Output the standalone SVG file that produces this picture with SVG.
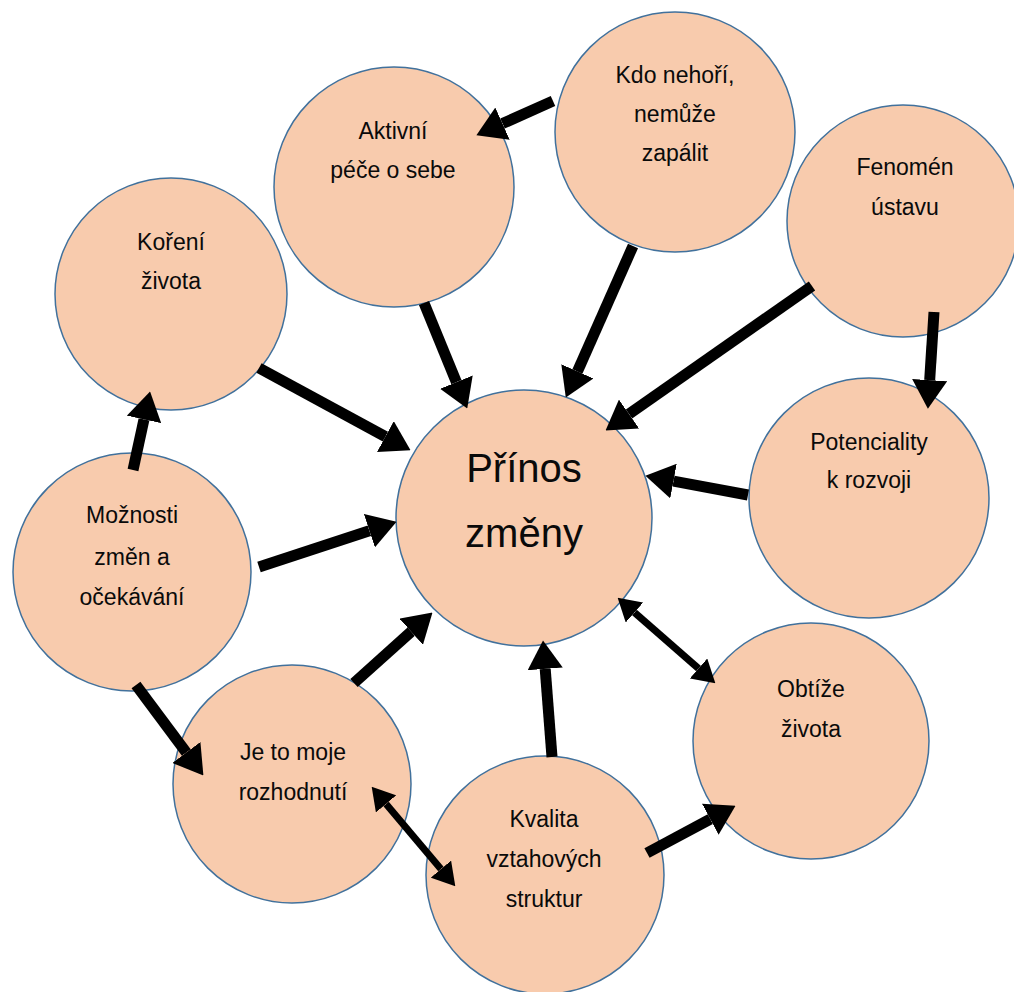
<svg xmlns="http://www.w3.org/2000/svg" width="1014" height="992" viewBox="0 0 1014 992">
<style>
.n{fill:#F8CBAD;stroke:#41719C;stroke-width:1.5}
.t{font-family:"Liberation Sans","DejaVu Sans",sans-serif;font-size:23px;fill:#0a0a0a;text-anchor:middle}
.big{font-size:40px}
.a{stroke:#000;stroke-width:11;fill:none;marker-end:url(#h)}
.d{stroke:#000;stroke-width:7;fill:none;marker-end:url(#hs);marker-start:url(#hs)}
</style>
<defs>
<marker id="h" viewBox="0 0 10 10" refX="0" refY="5" markerWidth="2.6" markerHeight="3.2" preserveAspectRatio="none" orient="auto" markerUnits="strokeWidth"><path d="M0,0 L10,5 L0,10 z" fill="#000"/></marker>
<marker id="hs" viewBox="0 0 10 10" refX="0" refY="5" markerWidth="3.2" markerHeight="3.8" preserveAspectRatio="none" orient="auto-start-reverse" markerUnits="strokeWidth"><path d="M0,0 L10,5 L0,10 z" fill="#000"/></marker>
</defs>
<g id="n-prinos"><circle class="n" cx="524" cy="518" r="128"/><text class="t big" x="524" y="482">Přínos</text><text class="t big" x="524" y="547">změny</text></g>
<g id="n-kdo"><circle class="n" cx="675" cy="132" r="120"/><text class="t" x="675" y="83">Kdo nehoří,</text><text class="t" x="675" y="122">nemůže</text><text class="t" x="675" y="161">zapálit</text></g>
<g id="n-aktivni"><circle class="n" cx="394" cy="187" r="120"/><text class="t" x="393" y="139">Aktivní</text><text class="t" x="393" y="178">péče o sebe</text></g>
<g id="n-koreni"><circle class="n" cx="171" cy="294" r="116"/><text class="t" x="171" y="250">Koření</text><text class="t" x="171" y="289">života</text></g>
<g id="n-fenomen"><circle class="n" cx="903" cy="221" r="116"/><text class="t" x="905" y="175">Fenomén</text><text class="t" x="905" y="215">ústavu</text></g>
<g id="n-potencialita"><circle class="n" cx="869" cy="498" r="120"/><text class="t" x="869" y="450">Potenciality</text><text class="t" x="869" y="488">k rozvoji</text></g>
<g id="n-moznosti"><circle class="n" cx="132" cy="572" r="119"/><text class="t" x="132" y="523">Možnosti</text><text class="t" x="132" y="565">změn a</text><text class="t" x="132" y="605">očekávání</text></g>
<g id="n-rozhodnuti"><circle class="n" cx="292" cy="784" r="119"/><text class="t" x="293" y="760">Je to moje</text><text class="t" x="293" y="800">rozhodnutí</text></g>
<g id="n-kvalita"><circle class="n" cx="545" cy="875" r="119"/><text class="t" x="544" y="827">Kvalita</text><text class="t" x="544" y="867">vztahových</text><text class="t" x="544" y="907">struktur</text></g>
<g id="n-obtize"><circle class="n" cx="811" cy="741" r="118"/><text class="t" x="811" y="697">Obtíže</text><text class="t" x="811" y="737">života</text></g>
<g id="connectors">
<line class="a" x1="553" y1="101" x2="502.5" y2="123.6"/>
<line class="a" x1="424" y1="303" x2="456.4" y2="382.1"/>
<line class="a" x1="633" y1="246" x2="577.4" y2="371.4"/>
<line class="a" x1="812" y1="286" x2="629" y2="414"/>
<line class="a" x1="934" y1="312" x2="929.7" y2="380.1"/>
<line class="a" x1="748" y1="495" x2="673.5" y2="481.1"/>
<line class="a" x1="259" y1="368" x2="385.4" y2="436.6"/>
<line class="a" x1="133" y1="470" x2="144" y2="419.4"/>
<line class="a" x1="259" y1="567" x2="369.4" y2="530.7"/>
<line class="a" x1="136" y1="685" x2="186.3" y2="752.5"/>
<line class="a" x1="354" y1="683" x2="411.2" y2="631.7"/>
<line class="a" x1="552" y1="757" x2="545.2" y2="668.9"/>
<line class="a" x1="647" y1="853" x2="710.3" y2="819.2"/>
<line class="d" x1="634.5" y1="612.5" x2="698.5" y2="668.5"/>
<line class="d" x1="386.1" y1="803.9" x2="440.9" y2="869.1"/>
</g>
</svg>
